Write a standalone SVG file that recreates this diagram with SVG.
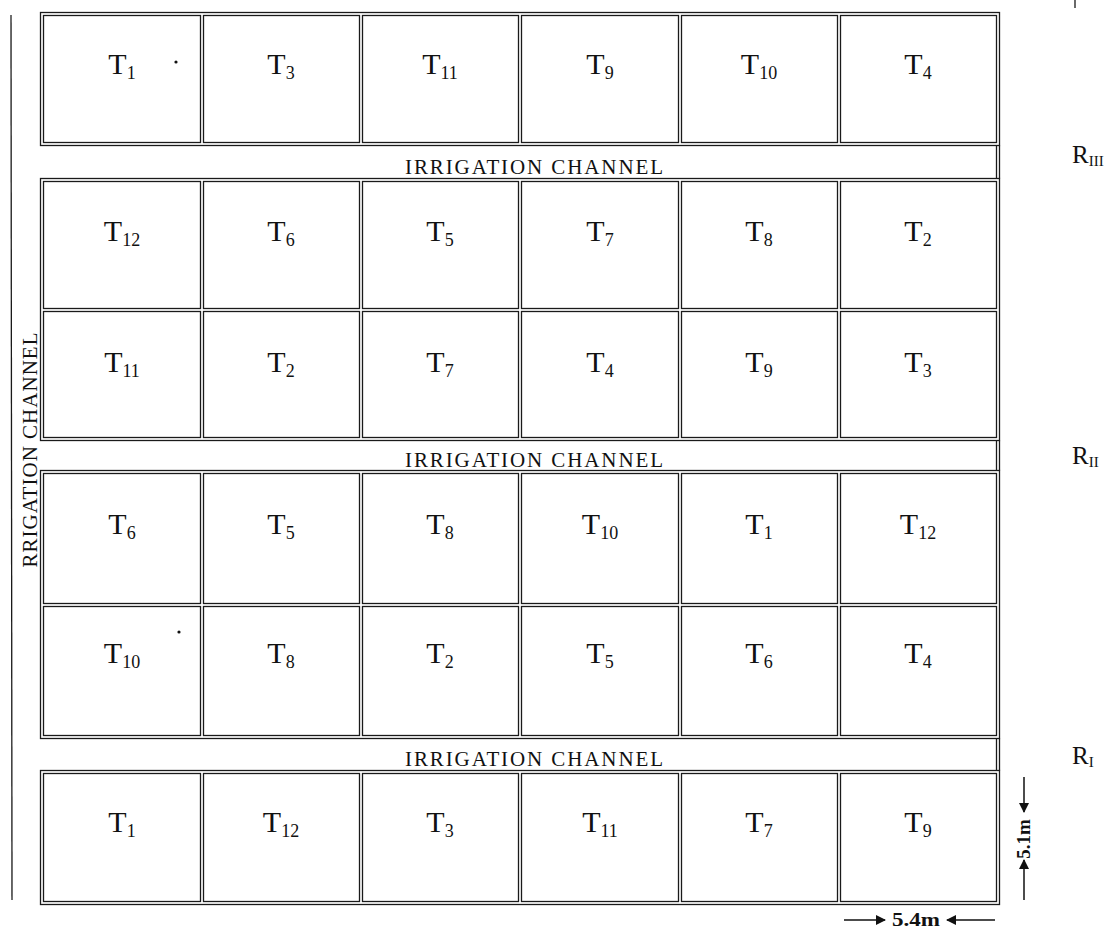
<svg xmlns="http://www.w3.org/2000/svg" width="1117" height="935" viewBox="0 0 1117 935">
<style>
.blk{fill:none;stroke:#1a1a1a;stroke-width:1.3}
.cell{fill:#fff;stroke:#1a1a1a;stroke-width:1.3}
.ln{stroke:#1a1a1a;stroke-width:1.3;fill:none}
.t{font-family:"Liberation Serif","Times New Roman",serif;font-size:30px;fill:#111;text-anchor:middle}
.s{font-size:18px}
.ch{font-family:"Liberation Serif","Times New Roman",serif;font-size:21px;fill:#111}
.r{font-family:"Liberation Serif","Times New Roman",serif;font-size:25px;fill:#111}
.rs{font-size:15px}
.dim{font-family:"Liberation Serif","Times New Roman",serif;font-size:19px;font-weight:bold;fill:#111}
.arr{stroke:#111;stroke-width:1.5;fill:none;marker-end:url(#ah)}
</style>
<defs>
<marker id="ah" viewBox="0 0 10 10" refX="9" refY="5" markerWidth="11" markerHeight="10" markerUnits="userSpaceOnUse" orient="auto">
<path d="M0,0 L10,5 L0,10 Z" fill="#111"/>
</marker>
</defs>
<rect width="1117" height="935" fill="#fff"/>

<!-- left irrigation channel line -->
<line class="ln" x1="11" y1="15" x2="12" y2="900"/>
<text class="ch" transform="translate(37,450) rotate(-90)" text-anchor="middle" textLength="235" lengthAdjust="spacing">RRIGATION CHANNEL</text>

<!-- block outlines -->
<g id="blocks">
<rect class="blk" x="40.5" y="12.5" width="959" height="133"/>
<rect class="blk" x="40.5" y="178.5" width="959" height="262"/>
<rect class="blk" x="40.5" y="470.5" width="959" height="268"/>
<rect class="blk" x="40.5" y="770.5" width="959" height="134"/>
</g>

<!-- channels -->
<g id="channel1">
<line class="ln" x1="999.5" y1="145.5" x2="999.5" y2="178.5"/>
<line class="ln" x1="996.5" y1="145.5" x2="996.5" y2="178.5"/>
<text class="ch" x="405" y="174" textLength="258" lengthAdjust="spacing">IRRIGATION CHANNEL</text>
</g>
<g id="channel2">
<line class="ln" x1="999.5" y1="440.5" x2="999.5" y2="470.5"/>
<line class="ln" x1="996.5" y1="440.5" x2="996.5" y2="470.5"/>
<text class="ch" x="405" y="467" textLength="258" lengthAdjust="spacing">IRRIGATION CHANNEL</text>
</g>
<g id="channel3">
<line class="ln" x1="999.5" y1="738.5" x2="999.5" y2="770.5"/>
<line class="ln" x1="996.5" y1="738.5" x2="996.5" y2="770.5"/>
<text class="ch" x="405" y="766" textLength="258" lengthAdjust="spacing">IRRIGATION CHANNEL</text>
</g>

<!-- Row 1 -->
<g id="r1c1"><rect class="cell" x="43.5" y="15.5" width="157" height="127"/><text class="t" x="122" y="74">T<tspan class="s" dy="5">1</tspan></text><circle cx="176" cy="62" r="1.6" fill="#111"/></g>
<g id="r1c2"><rect class="cell" x="203.5" y="15.5" width="156" height="127"/><text class="t" x="281" y="74">T<tspan class="s" dy="5">3</tspan></text></g>
<g id="r1c3"><rect class="cell" x="362.5" y="15.5" width="156" height="127"/><text class="t" x="440" y="74">T<tspan class="s" dy="5">11</tspan></text></g>
<g id="r1c4"><rect class="cell" x="521.5" y="15.5" width="157" height="127"/><text class="t" x="600" y="74">T<tspan class="s" dy="5">9</tspan></text></g>
<g id="r1c5"><rect class="cell" x="681.5" y="15.5" width="156" height="127"/><text class="t" x="759" y="74">T<tspan class="s" dy="5">10</tspan></text></g>
<g id="r1c6"><rect class="cell" x="840.5" y="15.5" width="156" height="127"/><text class="t" x="918" y="74">T<tspan class="s" dy="5">4</tspan></text></g>

<!-- Row 2 -->
<g id="r2c1"><rect class="cell" x="43.5" y="181.5" width="157" height="127"/><text class="t" x="122" y="241">T<tspan class="s" dy="5">12</tspan></text></g>
<g id="r2c2"><rect class="cell" x="203.5" y="181.5" width="156" height="127"/><text class="t" x="281" y="241">T<tspan class="s" dy="5">6</tspan></text></g>
<g id="r2c3"><rect class="cell" x="362.5" y="181.5" width="156" height="127"/><text class="t" x="440" y="241">T<tspan class="s" dy="5">5</tspan></text></g>
<g id="r2c4"><rect class="cell" x="521.5" y="181.5" width="157" height="127"/><text class="t" x="600" y="241">T<tspan class="s" dy="5">7</tspan></text></g>
<g id="r2c5"><rect class="cell" x="681.5" y="181.5" width="156" height="127"/><text class="t" x="759" y="241">T<tspan class="s" dy="5">8</tspan></text></g>
<g id="r2c6"><rect class="cell" x="840.5" y="181.5" width="156" height="127"/><text class="t" x="918" y="241">T<tspan class="s" dy="5">2</tspan></text></g>

<!-- Row 3 -->
<g id="r3c1"><rect class="cell" x="43.5" y="311.5" width="157" height="126"/><text class="t" x="122" y="372">T<tspan class="s" dy="5">11</tspan></text></g>
<g id="r3c2"><rect class="cell" x="203.5" y="311.5" width="156" height="126"/><text class="t" x="281" y="372">T<tspan class="s" dy="5">2</tspan></text></g>
<g id="r3c3"><rect class="cell" x="362.5" y="311.5" width="156" height="126"/><text class="t" x="440" y="372">T<tspan class="s" dy="5">7</tspan></text></g>
<g id="r3c4"><rect class="cell" x="521.5" y="311.5" width="157" height="126"/><text class="t" x="600" y="372">T<tspan class="s" dy="5">4</tspan></text></g>
<g id="r3c5"><rect class="cell" x="681.5" y="311.5" width="156" height="126"/><text class="t" x="759" y="372">T<tspan class="s" dy="5">9</tspan></text></g>
<g id="r3c6"><rect class="cell" x="840.5" y="311.5" width="156" height="126"/><text class="t" x="918" y="372">T<tspan class="s" dy="5">3</tspan></text></g>

<!-- Row 4 -->
<g id="r4c1"><rect class="cell" x="43.5" y="473.5" width="157" height="130"/><text class="t" x="122" y="534">T<tspan class="s" dy="5">6</tspan></text></g>
<g id="r4c2"><rect class="cell" x="203.5" y="473.5" width="156" height="130"/><text class="t" x="281" y="534">T<tspan class="s" dy="5">5</tspan></text></g>
<g id="r4c3"><rect class="cell" x="362.5" y="473.5" width="156" height="130"/><text class="t" x="440" y="534">T<tspan class="s" dy="5">8</tspan></text></g>
<g id="r4c4"><rect class="cell" x="521.5" y="473.5" width="157" height="130"/><text class="t" x="600" y="534">T<tspan class="s" dy="5">10</tspan></text></g>
<g id="r4c5"><rect class="cell" x="681.5" y="473.5" width="156" height="130"/><text class="t" x="759" y="534">T<tspan class="s" dy="5">1</tspan></text></g>
<g id="r4c6"><rect class="cell" x="840.5" y="473.5" width="156" height="130"/><text class="t" x="918" y="534">T<tspan class="s" dy="5">12</tspan></text></g>

<!-- Row 5 -->
<g id="r5c1"><rect class="cell" x="43.5" y="606.5" width="157" height="129"/><text class="t" x="122" y="663">T<tspan class="s" dy="5">10</tspan></text><circle cx="179" cy="632" r="1.6" fill="#111"/></g>
<g id="r5c2"><rect class="cell" x="203.5" y="606.5" width="156" height="129"/><text class="t" x="281" y="663">T<tspan class="s" dy="5">8</tspan></text></g>
<g id="r5c3"><rect class="cell" x="362.5" y="606.5" width="156" height="129"/><text class="t" x="440" y="663">T<tspan class="s" dy="5">2</tspan></text></g>
<g id="r5c4"><rect class="cell" x="521.5" y="606.5" width="157" height="129"/><text class="t" x="600" y="663" fill="#999">T<tspan class="s" dy="5">5</tspan></text></g>
<g id="r5c5"><rect class="cell" x="681.5" y="606.5" width="156" height="129"/><text class="t" x="759" y="663">T<tspan class="s" dy="5">6</tspan></text></g>
<g id="r5c6"><rect class="cell" x="840.5" y="606.5" width="156" height="129"/><text class="t" x="918" y="663">T<tspan class="s" dy="5">4</tspan></text></g>

<!-- Row 6 -->
<g id="r6c1"><rect class="cell" x="43.5" y="773.5" width="157" height="128"/><text class="t" x="122" y="832">T<tspan class="s" dy="5">1</tspan></text></g>
<g id="r6c2"><rect class="cell" x="203.5" y="773.5" width="156" height="128"/><text class="t" x="281" y="832">T<tspan class="s" dy="5">12</tspan></text></g>
<g id="r6c3"><rect class="cell" x="362.5" y="773.5" width="156" height="128"/><text class="t" x="440" y="832">T<tspan class="s" dy="5">3</tspan></text></g>
<g id="r6c4"><rect class="cell" x="521.5" y="773.5" width="157" height="128"/><text class="t" x="600" y="832">T<tspan class="s" dy="5">11</tspan></text></g>
<g id="r6c5"><rect class="cell" x="681.5" y="773.5" width="156" height="128"/><text class="t" x="759" y="832">T<tspan class="s" dy="5">7</tspan></text></g>
<g id="r6c6"><rect class="cell" x="840.5" y="773.5" width="156" height="128"/><text class="t" x="918" y="832">T<tspan class="s" dy="5">9</tspan></text></g>

<!-- replication labels -->
<g id="labels">
<line class="ln" x1="1075" y1="0" x2="1075" y2="8"/>
<text class="r" x="1072" y="163">R<tspan class="rs" dy="3">III</tspan></text>
<text class="r" x="1072" y="464">R<tspan class="rs" dy="3">II</tspan></text>
<text class="r" x="1072" y="764">R<tspan class="rs" dy="3">I</tspan></text>
</g>

<!-- dimension connectors -->
<g id="connectors">
<line class="arr" x1="1024" y1="777" x2="1024" y2="812"/>
<line class="arr" x1="1024" y1="900" x2="1024" y2="860"/>
<line class="arr" x1="844" y1="920" x2="885" y2="920"/>
<line class="arr" x1="995" y1="920" x2="947" y2="920"/>
</g>
<g id="dims">
<text class="dim" transform="translate(1030,839) rotate(-90)" text-anchor="middle">5.1m</text>
<text class="dim" x="916" y="926" text-anchor="middle" textLength="48" lengthAdjust="spacingAndGlyphs">5.4m</text>
</g>
</svg>
